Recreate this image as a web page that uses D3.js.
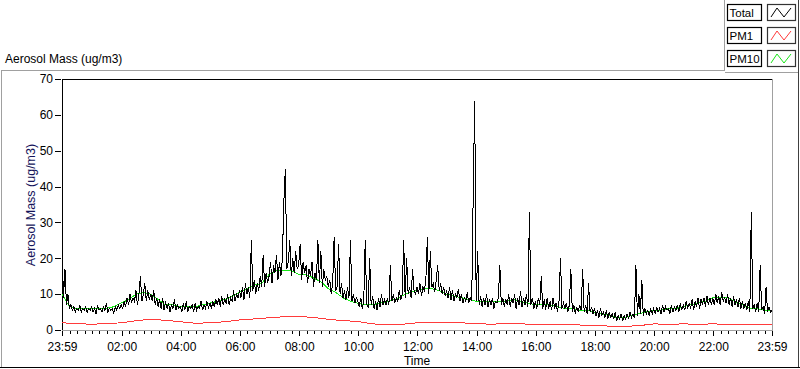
<!DOCTYPE html>
<html><head><meta charset="utf-8">
<script src="https://cdn.jsdelivr.net/npm/d3@7"></script>
<style>
html,body{margin:0;padding:0;background:#fff;}
svg{display:block;font-family:"Liberation Sans",Arial,sans-serif;}
</style></head>
<body><svg id="c" width="800" height="369"></svg>
<script>
// ---- data ----
const seriesNames = ["Total", "PM1", "PM10"];
const yTicks = [0, 10, 20, 30, 40, 50, 60, 70];
const xTickLabels = ["23:59","02:00","04:00","06:00","08:00","10:00","12:00","14:00","16:00","18:00","20:00","22:00","23:59"];
// Total: 3-minute samples starting 23:59 (one row per hour)
const totalValues = [
 24,9,17,7,10,6,7,5.5,6.5,5,6,5.5,7,5,6,5.5,6.5,5,6,5.5,
 6.5,5,6,4.5,7,5.5,6,5,6.5,5.5,7.5,5,6,5.5,6,4.8,6.5,5.5,7,6,
 7,6,8,6.5,9,7,10,7.5,9,8,11,7,10,15,8,10,13,8,11,8.5,
 10,8,11,7,9,6.5,8.5,6,9,5.5,8,6,7.5,5,7,6,8.5,5.5,7,6,
 6.5,5,7.5,5.5,8,5,6.5,6,7,5,7.5,5.5,6.5,6,8,5.5,7,6,8,6,
 7.5,6,8,6.5,8.5,7,9,6.5,9.5,7,8.5,7.5,10,7,9,8,11,8,10,9,
 11,9,12,8.5,13,10,12,9,25,11,14,10,13,11,15,12,21,12,16,13,
 15,19,13,18,16,21,14,19,15,20,36,45,17,19,25,15,20,16,22,17,
 18,24,14,19,16,18,13,17,15,19,12,16,14,25,13,22,12,17,14,15,
 12,14,10,13,26,11,12,24,10,13,9,11,8.5,12,9,25,8,10,7.5,9,
 8,6.5,9,6,8,25,7,6.5,20,7,9.5,6,8,5.5,9,6.5,10,7,8.5,7,
 9,7,18,8,10,7.5,9,8,11,8.5,10,25,9,20,10,12,9,17,11,10,
 12,10,13,9.5,12,11,14,26,10,22,12,13,10.5,14,18,11,13,10,12,9.5,
 11,9,12,8.5,11,8,10,9,11.5,8,10,7.5,9,8,10.5,7.5,9,8,38,64,
 8,22,7,9.5,6.5,9,7,10,6.5,8.5,7,9,6,8,7.5,9,18,7,9,6.5,
 8.5,7,10,6.5,9,7.5,10,6,9,7,11,6.5,9,7,10,6.5,33,7,9,6,
 8,6,9,7,15,6,8.5,5.5,9,6,8,5.5,9,6,7.5,5,8,20,6,7.5,
 6,7.5,5,7,17,5,7,4.5,6.5,5,7,5.5,17,5,7,4.5,13,5,6.5,4.5,
 6,4,5.5,3.5,6,4,5,3.5,5.5,3,5,3.5,4.5,3,5,2.5,4,3,4.5,2.5,
 4,3,4.5,3,5,3.5,4.5,3.5,18,4,10,4.5,14,4,6,4.5,5.5,4,6,4.5,
 6,4.5,6.5,5,6,4.5,7,5,6.5,5.5,6,4.5,7,5,6.5,5.5,7,5,7.5,5.5,
 7,5.5,8,6,7.5,6,8.5,5.5,8,6.5,9,6,8.5,7,9,6.5,9.5,7,9,7,
 9,7,10,7.5,9.5,7,10.5,8,9,7.5,10,7,9,6.5,9.5,7,8.5,6.5,9,6,
 8,6,7.5,5.5,8,5,33,6,7,5,7.5,5,18,5.5,6.5,4.5,12,5,6.5,5,
 5.5
];
// PM1: 30-minute samples starting 23:59
const pm1Values = [
 2.0,1.8,1.6,1.8,2.0,2.6,3.0,2.7,2.3,1.9,2.0,2.3,2.8,3.1,3.4,3.7,3.8,3.5,3.0,2.6,
 2.4,1.7,1.5,1.6,2.0,2.2,2.1,2.0,1.8,1.6,1.8,1.7,1.6,1.5,1.6,1.4,1.2,1.1,1.0,1.2,
 1.7,1.6,1.7,1.6,1.7,1.6,1.5,1.6,1.4
];
// PM10: 15-minute samples starting 23:59
const pm10Values = [
 10,6.5,6,6, 6,6,6,6.5, 7.5,8.5,10,10.5, 10,8.5,7,7, 6.5,6.5,6.5,7, 7.5,8,8.5,9.5,
 10.5,11.5,12.5,13, 15.5,16.5,16.5,16.5, 15.5,15.5,14.5,13.5, 11.5,10.5,9,8, 7.5,7,7,7.5, 8,8.5,9.5,10.5,
 11,11.5,11.5,11, 10,9.5,9,8.5, 8,8,8,8, 8,8.5,8,7.5, 7,7,7,6.5, 6,6,5.5,5.5,
 5,4.5,4,3.5, 3.5,4,4.5,5, 5.5,5.5,6,6, 6.5,7,7.5,8, 9,9,9,8, 7,6,6,5.5, 5.5
];
const colors = {Total:"#000000", PM1:"#ff3b3b", PM10:"#19e619"};

// ---- chart ----
const svg = d3.select("#c");
const t0 = new Date(2020,0,1,23,59);
const t1 = new Date(2020,0,2,23,59);
const toSeries = (vals, stepMin) => vals.map((v,i)=>({t:d3.timeMinute.offset(t0, i*stepMin), v}));
const dTotal = toSeries(totalValues, 3);
const dPm1 = toSeries(pm1Values, 30);
const dPm10 = toSeries(pm10Values, 15);

const L=62, R=772, T=79, B=330;
const x = d3.scaleTime().domain([t0,t1]).range([L,R]);
const y = d3.scaleLinear().domain([0,70]).range([B,T]);

// outer frame
const g0 = svg.append("g").attr("shape-rendering","crispEdges");
g0.append("path").attr("d","M1.5,70.5 H724.5 V0").attr("fill","none").attr("stroke","#a0a0a0");
g0.append("path").attr("d","M724.5,72.5 H798.5").attr("fill","none").attr("stroke","#a0a0a0");
g0.append("line").attr("x1",1.5).attr("x2",1.5).attr("y1",70).attr("y2",367).attr("stroke","#a0a0a0");
g0.append("line").attr("x1",798.5).attr("x2",798.5).attr("y1",0).attr("y2",368).attr("stroke","#404040");
g0.append("line").attr("x1",0).attr("x2",800).attr("y1",367.5).attr("y2",367.5).attr("stroke","#000");

// title
svg.append("text").attr("x",5).attr("y",63).attr("font-size",12).attr("fill","#000").text("Aerosol Mass (ug/m3)");

// plot background
const gb = svg.append("g").attr("shape-rendering","crispEdges");
gb.append("rect").attr("x",L).attr("y",T).attr("width",R-L).attr("height",B-T).attr("fill","#fff");

// lines
const line = d3.line().x(d=>x(d.t)).y(d=>y(d.v));
svg.append("path").datum(dPm10).attr("d",line).attr("fill","none").attr("stroke",colors.PM10).attr("stroke-width",1).attr("shape-rendering","crispEdges");
svg.append("path").datum(dTotal).attr("d",line).attr("fill","none").attr("stroke",colors.Total).attr("stroke-width",1).attr("shape-rendering","crispEdges");
svg.append("path").datum(dPm1).attr("d",line).attr("fill","none").attr("stroke",colors.PM1).attr("stroke-width",1).attr("shape-rendering","crispEdges");

gb.append("path").attr("d",`M${L+.5},${B} V${T+.5} H${R}`).attr("fill","none").attr("stroke","#000");
gb.append("path").attr("d",`M${L},${B+.5} H${R+.5} V${T}`).attr("fill","none").attr("stroke","#a0a0a0");

// axes
const majorT = xTickLabels.map((s,i)=> i===0? t0 : (i===xTickLabels.length-1? t1 : new Date(2020,0,2,+s.slice(0,2),0)));
const minorT = d3.timeMinute.every(15).range(d3.timeMinute.offset(t0,10), t1).filter(d=>!majorT.some(m=>+m===+d));
const gx = svg.append("g").attr("transform",`translate(0,${B+1})`);
gx.call(d3.axisBottom(x).tickValues(minorT).tickSize(3).tickFormat(""));
const gx2 = svg.append("g").attr("transform",`translate(0,${B+1})`);
gx2.call(d3.axisBottom(x).tickValues(majorT).tickSize(5).tickPadding(6).tickFormat((d,i)=>xTickLabels[i]));
[gx,gx2].forEach(g=>{g.select(".domain").remove(); g.selectAll("line").attr("stroke","#000").attr("shape-rendering","crispEdges");});
gx2.selectAll("text").attr("font-size",12).attr("fill","#000").attr("font-family","'Liberation Sans',Arial,sans-serif");

const gy = svg.append("g").attr("transform",`translate(${L-1},0)`);
gy.call(d3.axisLeft(y).tickValues(yTicks).tickSize(6).tickPadding(2));
gy.select(".domain").remove();
gy.selectAll("line").attr("stroke","#000").attr("shape-rendering","crispEdges");
gy.selectAll("text").attr("font-size",12).attr("fill","#000").attr("font-family","'Liberation Sans',Arial,sans-serif");

svg.append("text").attr("x",417).attr("y",365).attr("text-anchor","middle").attr("font-size",12).text("Time");
svg.append("text").attr("transform","translate(35,205) rotate(-90)").attr("text-anchor","middle").attr("font-size",12.5).attr("fill","#14145a").text("Aerosol Mass (ug/m3)");

// legend
const lg = svg.append("g");
seriesNames.forEach((name,i)=>{
  const yy = 4 + i*23;
  lg.append("rect").attr("x",727.5).attr("y",yy+.5).attr("width",34).attr("height",16).attr("fill","#fff").attr("stroke","#000").attr("stroke-width",1.2);
  lg.append("text").attr("x",729.5).attr("y",yy+13).attr("font-size",11.5).text(name);
  lg.append("rect").attr("x",767.5).attr("y",yy+.5).attr("width",28).attr("height",16).attr("fill","#fff").attr("stroke","#333").attr("stroke-width",1.2);
  lg.append("path").attr("d",`M771,${yy+13} L777,${yy+4} L784,${yy+13} L791,${yy+4}`).attr("fill","none").attr("stroke",colors[name]).attr("stroke-width",1);
});
</script></body></html>
